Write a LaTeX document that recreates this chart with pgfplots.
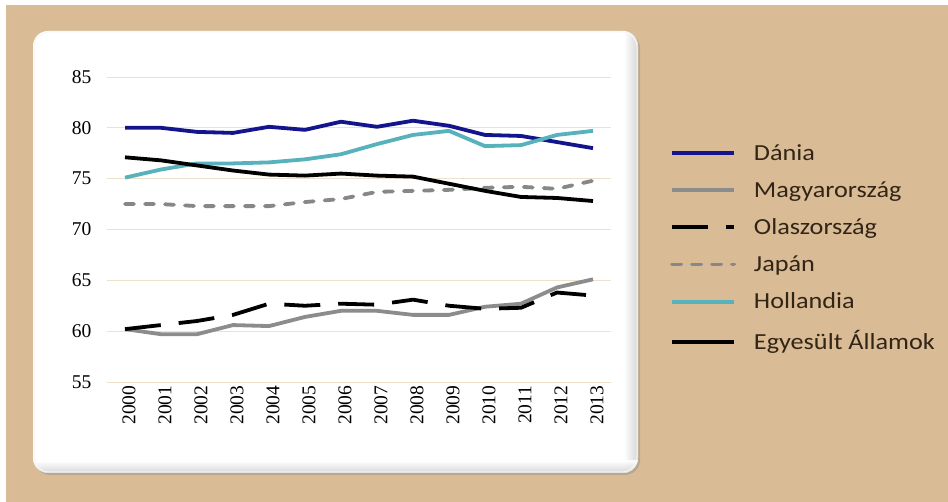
\documentclass[border=0pt]{standalone}
\usepackage{pgfplots}
\pgfplotsset{compat=1.18}
\usepackage{fontspec}
\setmainfont{Liberation Serif}
\newfontfamily\legfont[FakeStretch=1.14]{Carlito}
\usetikzlibrary{shadows}

\definecolor{paper}{RGB}{217,188,150}
\definecolor{gridtan}{RGB}{238,224,202}
\definecolor{dania}{RGB}{20,20,140}
\definecolor{hungary}{RGB}{140,140,140}
\definecolor{japan}{RGB}{135,135,135}
\definecolor{holland}{RGB}{88,178,188}
\definecolor{legtext}{RGB}{50,36,22}

\pgfplotstableread{
year dania hungary italy japan holland usa
0    80.0  60.2    60.2  72.5  75.1    77.1
1    80.0  59.7    60.6  72.5  75.9    76.8
2    79.6  59.7    61.0  72.3  76.5    76.3
3    79.5  60.6    61.6  72.3  76.5    75.8
4    80.1  60.5    62.7  72.3  76.6    75.4
5    79.8  61.4    62.5  72.7  76.9    75.3
6    80.6  62.0    62.7  73.0  77.4    75.5
7    80.1  62.0    62.6  73.7  78.4    75.3
8    80.7  61.6    63.1  73.8  79.3    75.2
9    80.2  61.6    62.5  73.9  79.7    74.5
10   79.3  62.4    62.2  74.1  78.2    73.8
11   79.2  62.7    62.3  74.2  78.3    73.2
12   78.6  64.3    63.8  74.0  79.3    73.1
13   78.0  65.1    63.5  74.8  79.7    72.8
}\lifeexp

\begin{document}
\begin{tikzpicture}[x=1pt,y=1pt]
  % paper background with a thin white margin at top and left
  \fill[white] (0,0) rectangle (948,502);
  \fill[paper] (6,0) rectangle (948,497);
  % white rounded panel with a soft shadow
  \fill[white, rounded corners=15pt,
        drop shadow={shadow xshift=2pt, shadow yshift=-2pt, opacity=0.35}]
        (33,29) rectangle (638,471);
  \begin{scope}
    \clip[rounded corners=15pt] (33,29) rectangle (638,471);
    \shade[left color=white, right color=gray!40, opacity=0.8] (624,29) rectangle (638,471);
    \shade[top color=white, bottom color=gray!40, opacity=0.8] (33,29) rectangle (638,41);
  \end{scope}
  \draw[white!94!gray, line width=1pt, rounded corners=15pt] (34,30) rectangle (637,470);

  \begin{axis}[
    at={(107pt,120pt)}, anchor=south west,
    scale only axis, width=504pt, height=305pt,
    xmin=-0.5, xmax=13.5, ymin=55, ymax=85,
    axis line style={draw=none},
    tick style={draw=none},
    ytick={55,60,...,85},
    xtick={0,...,13},
    xticklabels={2000,2001,2002,2003,2004,2005,2006,2007,2008,2009,2010,2011,2012,2013},
    ymajorgrids, grid style={gridtan, line width=0.9pt},
    /pgf/number format/assume math mode=true,
    tick label style={font=\fontsize{19.5}{22}\selectfont, text=black},
    yticklabel style={xshift=-12pt},
    xticklabel style={rotate=90, anchor=east, yshift=-4pt},
    legend image code/.code={\draw[#1] (0pt,7pt) -- (62pt,7pt);},
    legend cell align=left,
    legend style={draw=none, fill=none, at={(1.117,0.78)}, anchor=north west,
      inner sep=0pt, column sep=18pt, row sep=19.8pt,
      font=\legfont\fontsize{23}{26}\selectfont, text=legtext,
      nodes={inner sep=0pt, anchor=base west}},
    every axis plot/.append style={line width=3.8pt, line join=round},
  ]
    \addplot[dania] table[x=year, y=dania] {\lifeexp};
    \addlegendentry{Dánia}
    \addplot[hungary] table[x=year, y=hungary] {\lifeexp};
    \addlegendentry{Magyarország}
    \addplot[black, dash pattern=on 36pt off 18pt] table[x=year, y=italy] {\lifeexp};
    \addlegendentry{Olaszország}
    \addplot[japan, line cap=round, dash pattern=on 9pt off 11pt] table[x=year, y=japan] {\lifeexp};
    \addlegendentry{Japán}
    \addplot[holland] table[x=year, y=holland] {\lifeexp};
    \addlegendentry{Hollandia}
    \addplot[black] table[x=year, y=usa] {\lifeexp};
    \addlegendentry{Egyesült Államok}
  \end{axis}
\end{tikzpicture}
\end{document}
